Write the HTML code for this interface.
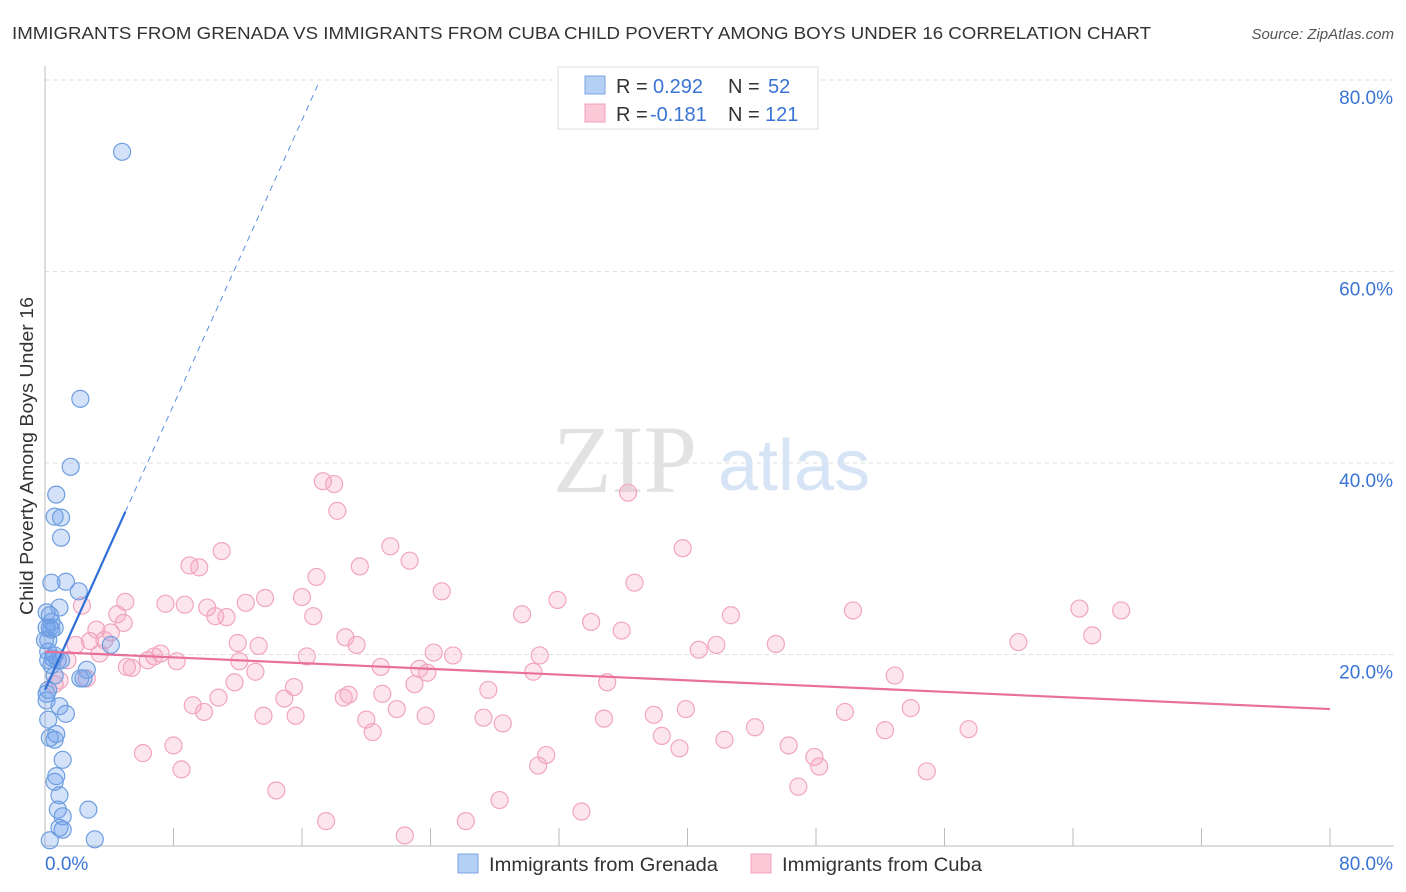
<!DOCTYPE html>
<html><head><meta charset="utf-8">
<style>
body{margin:0;background:#fff;font-family:"Liberation Sans",sans-serif;}
svg{display:block}
</style></head>
<body>
<svg id="chart" width="1406" height="892" xmlns="http://www.w3.org/2000/svg">
<text x="12" y="39" font-size="17.5" fill="#333" textLength="1139" lengthAdjust="spacingAndGlyphs">IMMIGRANTS FROM GRENADA VS IMMIGRANTS FROM CUBA CHILD POVERTY AMONG BOYS UNDER 16 CORRELATION CHART</text>
<text x="1394" y="39" font-size="15" fill="#555" font-style="italic" text-anchor="end">Source: ZipAtlas.com</text>
<g id="grid"></g>
<text x="553" y="492" font-size="96" fill="#e2e2e2" font-family="Liberation Serif,serif">ZIP</text>
<text x="718" y="490" font-size="72" fill="#d6e4f5">atlas</text>
<g id="axes"></g>
<g id="pts"></g>
<g id="trend"></g>
<text transform="translate(33,456) rotate(-90)" font-size="18.5" fill="#333" text-anchor="middle" textLength="318" lengthAdjust="spacingAndGlyphs">Child Poverty Among Boys Under 16</text>
<g>
<rect x="558" y="67" width="260" height="62" fill="#fff" stroke="#ddd"/>
<rect x="585" y="76" width="20" height="18" fill="#b5d0f5" stroke="#7aa4e0"/>
<rect x="585" y="104" width="20" height="18" fill="#fcc9d8" stroke="#f0a0bc"/>
<text x="616" y="93" font-size="20" fill="#333">R =</text>
<text x="653" y="93" font-size="20" fill="#3a74d4">0.292</text>
<text x="728" y="93" font-size="20" fill="#333">N =</text>
<text x="768" y="93" font-size="20" fill="#3a74d4">52</text>
<text x="616" y="121" font-size="20" fill="#333">R =</text>
<text x="650" y="121" font-size="20" fill="#3a74d4">-0.181</text>
<text x="728" y="121" font-size="20" fill="#333">N =</text>
<text x="765" y="121" font-size="20" fill="#3a74d4">121</text>
</g>
<g>
<rect x="458" y="854" width="20" height="19" fill="#b5d0f5" stroke="#7aa4e0"/>
<text x="489" y="871" font-size="19" fill="#333" textLength="229" lengthAdjust="spacingAndGlyphs">Immigrants from Grenada</text>
<rect x="751" y="854" width="20" height="19" fill="#fcc9d8" stroke="#f0a0bc"/>
<text x="782" y="871" font-size="19" fill="#333" textLength="200" lengthAdjust="spacingAndGlyphs">Immigrants from Cuba</text>
</g>
</svg>
<script>
const yTicks=[20,40,60,80];
const yTickLabels=["20.0%","40.0%","60.0%","80.0%"];
const xTicks=[0,8,16,24,32,40,48,56,64,72,80];
const xEndLabels=["0.0%","80.0%"];
const grenadaX=[4.8,2.2,1.6,0.7,0.6,1.0,1.0,1.3,0.4,2.1,0.9,0.3,0.4,0.1,0.6,0.2,4.1,0.2,0.5,0.8,1.0,0.4,2.6,0.6,2.2,2.4,0.2,0.1,0.9,1.3,0.2,0.7,0.3,0.6,1.1,0.7,0.6,0.9,0.8,2.7,1.1,0.9,1.1,3.1,0.3,0.0,0.2,0.1,0.6,0.4,0.3,0.1];
const grenadaY=[72.5,46.7,39.6,36.7,34.4,34.3,32.2,27.6,27.5,26.6,24.9,24.1,23.4,22.8,22.8,21.5,21.0,20.3,19.6,19.4,19.4,18.9,18.4,17.8,17.5,17.5,16.3,15.9,14.6,13.8,13.2,11.7,11.3,11.1,9.0,7.3,6.7,5.3,3.8,3.8,3.1,1.9,1.7,0.7,0.6,21.5,19.4,15.2,19.9,22.6,22.8,24.4];
const cubaX=[17.3,18.0,36.3,18.2,11.0,21.5,39.7,22.7,9.0,9.6,19.6,16.9,36.7,24.7,5.0,2.3,7.5,8.7,12.5,13.7,16.0,31.9,29.7,4.5,10.1,10.6,11.3,16.7,34.0,35.9,42.7,50.3,64.4,67.0,65.2,60.6,4.1,4.9,3.2,2.8,1.9,3.7,12.0,13.3,18.7,19.4,41.8,40.7,45.5,24.2,25.4,30.8,6.8,6.4,7.2,5.1,5.4,8.2,12.1,16.3,23.3,23.8,30.4,2.6,0.6,0.9,1.4,3.4,11.8,13.1,20.9,23.0,35.0,52.9,27.6,15.5,18.6,18.9,21.0,10.8,9.2,9.9,13.6,14.9,15.6,21.9,23.7,27.3,28.5,20.0,20.4,34.8,37.9,39.9,44.2,49.8,53.9,52.3,57.5,38.4,39.5,42.3,46.3,31.2,6.1,8.0,30.7,47.9,48.2,8.5,54.9,46.9,14.4,28.3,33.4,17.5,26.2,22.4];
const cubaY=[38.1,37.8,36.9,35.0,30.8,31.3,31.1,29.8,29.3,29.1,29.2,28.1,27.5,26.6,25.5,25.1,25.3,25.2,25.4,25.9,26.0,25.7,24.2,24.2,24.9,24.0,23.9,24.0,23.4,22.5,24.1,24.6,24.8,24.6,22.0,21.3,22.3,23.3,22.6,21.4,21.0,21.5,21.2,20.9,21.8,21.0,21.0,20.5,21.1,20.2,19.9,19.9,19.8,19.4,20.1,18.7,18.6,19.3,19.3,19.8,18.5,18.1,18.2,17.5,16.9,17.3,19.4,20.1,17.1,18.2,18.7,16.9,17.1,17.8,16.3,16.6,15.5,15.8,15.9,15.5,14.7,14.0,13.6,15.4,13.6,14.3,13.6,13.4,12.8,13.2,11.9,13.3,13.7,14.3,12.4,14.0,14.4,12.1,12.2,11.5,10.2,11.1,10.5,9.5,9.7,10.5,8.4,9.3,8.3,8.0,7.8,6.2,5.8,4.8,3.6,2.6,2.6,1.1];
const grenadaTrend=[16.3,3.72]; // intercept, slope
const grenadaSolidEnd=5.0, grenadaDashEnd=17.0;
const cubaTrend=[20.3,-0.075];

const X0=45,X1=1330,Y0=846,Y80=80;
const sx=v=>X0+(X1-X0)*v/80;
const sy=v=>Y0-(Y0-Y80)*v/80;
const NS="http://www.w3.org/2000/svg";
function mk(tag,attrs,parent){const e=document.createElementNS(NS,tag);for(const k in attrs)e.setAttribute(k,attrs[k]);parent.appendChild(e);return e;}
const grid=document.getElementById('grid'),axes=document.getElementById('axes');
yTicks.forEach((t,i)=>{
 const l=mk('line',{x1:45,x2:1394,y1:sy(t),y2:sy(t),stroke:'#ddd','stroke-dasharray':'4,4'},grid);
 
 
 const tx=mk('text',{x:1393,y:sy(t)+24,'font-size':19,fill:'#3a74d4','text-anchor':'end'},axes);
 tx.textContent=yTickLabels[i];
 
 
});
const ya=mk('line',{x1:45,x2:45,y1:66,y2:846,stroke:'#bbb'},axes);


const xa=mk('line',{x1:45,x2:1394,y1:846,y2:846,stroke:'#bbb'},axes);


xTicks.forEach(t=>{
 const l=mk('line',{x1:sx(t),x2:sx(t),y1:828,y2:846,stroke:'#bbb'},axes);
 
 
});
const xl0=mk('text',{x:45,y:870,'font-size':19,fill:'#3a74d4'},axes);xl0.textContent=xEndLabels[0];


const xl1=mk('text',{x:1393,y:870,'font-size':19,fill:'#3a74d4','text-anchor':'end'},axes);xl1.textContent=xEndLabels[1];


const pts=document.getElementById('pts');
cubaX.forEach((x,i)=>{
 const c=mk('circle',{cx:sx(x),cy:sy(cubaY[i]),r:8.5,fill:'rgba(244,160,190,0.28)',stroke:'#f2a5c0','stroke-width':1.2},pts);
 
 
});
grenadaX.forEach((x,i)=>{
 const c=mk('circle',{cx:sx(x),cy:sy(grenadaY[i]),r:8.5,fill:'rgba(110,160,235,0.3)',stroke:'#6e9ee0','stroke-width':1.2},pts);
 
 
});
const tr=document.getElementById('trend');
const gy=x=>grenadaTrend[0]+grenadaTrend[1]*x, cy=x=>cubaTrend[0]+cubaTrend[1]*x;
const t1=mk('line',{x1:sx(0),y1:sy(gy(0)),x2:sx(grenadaSolidEnd),y2:sy(gy(grenadaSolidEnd)),stroke:'#2f6fd6','stroke-width':2.2},tr);


const t2=mk('line',{x1:sx(grenadaSolidEnd),y1:sy(gy(grenadaSolidEnd)),x2:sx(grenadaDashEnd),y2:sy(gy(grenadaDashEnd)),stroke:'#5a8fe0','stroke-width':1,'stroke-dasharray':'6,5'},tr);


const t3=mk('line',{x1:sx(0),y1:sy(cy(0)),x2:sx(80),y2:sy(cy(80)),stroke:'#e8709a','stroke-width':2.2},tr);


</script>
</body></html>
